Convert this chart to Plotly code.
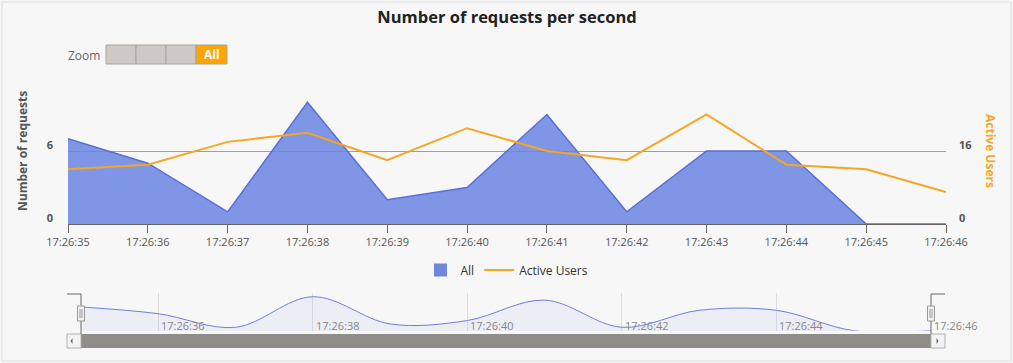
import plotly.graph_objects as go

W, H = 1013, 363
L, R, T, B = 68, 67, 78, 29
PW, PH = W - L - R, H - T - B

def px(x):
    return (x - L) / PW

def py(y):
    return (H - B - y) / PH

day = "2024-01-01 "
times = ["17:26:35", "17:26:36", "17:26:37", "17:26:38", "17:26:39", "17:26:40",
         "17:26:41", "17:26:42", "17:26:43", "17:26:44", "17:26:45", "17:26:46"]
requests_all = [7, 5, 1, 10, 2, 3, 9, 1, 6, 6, 0, 0]
active_users = [12, 13, 18, 20, 14, 21, 16, 14, 24, 13, 12, 7]
nav_labels = ["17:26:36", "17:26:38", "17:26:40", "17:26:42", "17:26:44", "17:26:46"]

xs = [day + t for t in times]
FONT = "Open Sans, DejaVu Sans, sans-serif"
ORANGE = "#f5a623"
BG = "#f7f7f7"
BLUE_FILL = "rgba(106,132,227,0.85)"

fig = go.Figure()
fig.add_trace(go.Scatter(x=xs, y=requests_all, name="All", mode="lines",
                         line=dict(color="#5b6fd6", width=1.5), fill="tozeroy",
                         fillcolor=BLUE_FILL, xaxis="x", yaxis="y", showlegend=False,
                         legendgroup="all"))
# legend entry for "All" (square symbol)
fig.add_trace(go.Scatter(x=[None], y=[None], name="All", mode="markers",
                         marker=dict(symbol="square", size=13, color="#6f86e0"),
                         xaxis="x", yaxis="y", legendgroup="all"))
fig.add_trace(go.Scatter(x=xs, y=active_users, name="Active Users", mode="lines",
                         line=dict(color=ORANGE, width=2), xaxis="x", yaxis="y2"))
# navigator
fig.add_trace(go.Scatter(x=xs, y=requests_all, mode="lines", showlegend=False,
                         line=dict(color="#6f7fd6", width=1, shape="spline", smoothing=1.0),
                         fill="tozeroy", fillcolor="rgba(100,120,220,0.07)",
                         xaxis="x2", yaxis="y3", hoverinfo="skip"))

shapes = []
annotations = []

# outer border
shapes.append(dict(type="rect", xref="paper", yref="paper", x0=px(2), x1=px(1011),
                   y0=py(361), y1=py(2), line=dict(color="#dcdcdc", width=1), layer="below"))

# zoom buttons
annotations.append(dict(text="Zoom", xref="paper", yref="paper", x=px(102), y=py(55),
                        xanchor="right", yanchor="middle", showarrow=False,
                        font=dict(family=FONT, size=12, color="#666")))
bx = [106, 136, 166, 196, 227]
for i in range(4):
    col = "#ffa500" if i == 3 else "#cdc9c5"
    shapes.append(dict(type="rect", xref="paper", yref="paper", x0=px(bx[i]), x1=px(bx[i + 1]),
                       y0=py(64), y1=py(45), fillcolor=col, line=dict(color="#a8a49f", width=1)))
annotations.append(dict(text="<b>All</b>", xref="paper", yref="paper", x=px(211.5), y=py(54.5),
                        xanchor="center", yanchor="middle", showarrow=False,
                        font=dict(family=FONT, size=12, color="white")))

# axis titles
annotations.append(dict(text="<b>Number of requests</b>", xref="paper", yref="paper",
                        x=px(22), y=py(151), textangle=-90, showarrow=False,
                        xanchor="center", yanchor="middle",
                        font=dict(family=FONT, size=12, color="#555")))
annotations.append(dict(text="<b>Active Users</b>", xref="paper", yref="paper",
                        x=px(991), y=py(151), textangle=90, showarrow=False,
                        xanchor="center", yanchor="middle",
                        font=dict(family=FONT, size=12, color=ORANGE)))

# navigator labels
for lab in nav_labels:
    annotations.append(dict(text=lab, xref="x2", yref="paper", x=day + lab, y=py(325),
                            xanchor="left", yanchor="middle", xshift=1, showarrow=False,
                            font=dict(family=FONT, size=11, color="#888")))

# scrollbar
shapes.append(dict(type="rect", xref="paper", yref="paper", x0=px(81), x1=px(931),
                   y0=py(348), y1=py(334), fillcolor="#8f8d88", line=dict(width=0)))
for x0, x1 in [(67, 81), (931, 945)]:
    shapes.append(dict(type="rect", xref="paper", yref="paper", x0=px(x0), x1=px(x1),
                       y0=py(348), y1=py(334), fillcolor="#f4f4f4",
                       line=dict(color="#b0b0b0", width=1)))
shapes.append(dict(type="path", xref="paper", yref="paper",
                   path=f"M {px(72.5)},{py(338)} L {px(72.5)},{py(344)} L {px(70.5)},{py(341)} Z",
                   fillcolor="#666", line=dict(width=0)))
shapes.append(dict(type="path", xref="paper", yref="paper",
                   path=f"M {px(936.5)},{py(338)} L {px(936.5)},{py(344)} L {px(938.5)},{py(341)} Z",
                   fillcolor="#666", line=dict(width=0)))
# navigator outline
shapes.append(dict(type="path", xref="paper", yref="paper",
                   path=f"M {px(67)},{py(294)} L {px(81)},{py(294)} L {px(81)},{py(334)}",
                   line=dict(color="#666", width=1)))
shapes.append(dict(type="path", xref="paper", yref="paper",
                   path=f"M {px(945)},{py(294)} L {px(931)},{py(294)} L {px(931)},{py(334)}",
                   line=dict(color="#666", width=1)))
for hx in (81, 931):
    shapes.append(dict(type="rect", xref="paper", yref="paper", x0=px(hx - 3.5), x1=px(hx + 3.5),
                       y0=py(321), y1=py(306), fillcolor="#f2f2f2",
                       line=dict(color="#999", width=1)))
    for dx in (-1, 1):
        shapes.append(dict(type="line", xref="paper", yref="paper", x0=px(hx + dx), x1=px(hx + dx),
                           y0=py(318), y1=py(309), line=dict(color="#999", width=1)))

fig.update_layout(
    width=W, height=H,
    margin=dict(l=L, r=R, t=T, b=B, pad=0),
    paper_bgcolor=BG, plot_bgcolor=BG,
    font=dict(family=FONT, size=11, color="#555"),
    title=dict(text="<b>Number of requests per second</b>", x=0.5, xref="paper",
               y=1 - 17 / H, yanchor="middle", yref="container",
               font=dict(family=FONT, size=16.5, color="#222")),
    showlegend=True,
    legend=dict(orientation="h", x=0.5, xanchor="center", y=py(270), yanchor="middle",
                font=dict(family=FONT, size=12, color="#333"), bgcolor="rgba(0,0,0,0)",
                itemwidth=30),
    xaxis=dict(type="date", range=[xs[0], xs[-1]], domain=[0, 1], anchor="y",
               tickformat="%H:%M:%S", dtick=1000, tick0=xs[0], showgrid=False,
               ticks="outside", ticklen=8, tickcolor="#666", showline=True,
               linecolor="#666", linewidth=1, zeroline=False,
               tickfont=dict(family=FONT, size=11, color="#555")),
    yaxis=dict(domain=[py(224), 1], range=[0, 12], tickvals=[0, 6, 12],
               ticktext=["<b>0</b>", "<b>6</b>", ""], showgrid=True, gridcolor="#a0a0a0",
               gridwidth=1, zeroline=False, ticks="", ticklabelstandoff=14,
               ticklabelshift=-6,
               tickfont=dict(family=FONT, size=11, color="#555"), fixedrange=True),
    yaxis2=dict(overlaying="y", side="right", range=[0, 32], tickvals=[0, 16],
                ticktext=["<b>0</b>", "<b>16</b>"], showgrid=False, zeroline=False,
                ticks="", ticklabelstandoff=12, ticklabelshift=-6, anchor="x",
                tickfont=dict(family=FONT, size=11, color="#555")),
    xaxis2=dict(type="date", range=[xs[0], xs[-1]], domain=[px(81), px(931)], anchor="y3",
                showticklabels=False, showgrid=True, gridcolor="#dedede",
                dtick=2000, tick0=day + "17:26:36", ticks="", showline=False, zeroline=False),
    yaxis3=dict(domain=[py(330.7), py(293)], range=[0, 11.1], showticklabels=False,
                showgrid=False, zeroline=False, anchor="x2"),
    shapes=shapes,
    annotations=annotations,
)

fig.write_html("out.html", config={"displayModeBar": False},
               post_script="document.body.style.margin='0px';"
                           "document.body.style.overflow='hidden';"
                           "document.body.style.background='#f7f7f7';")
